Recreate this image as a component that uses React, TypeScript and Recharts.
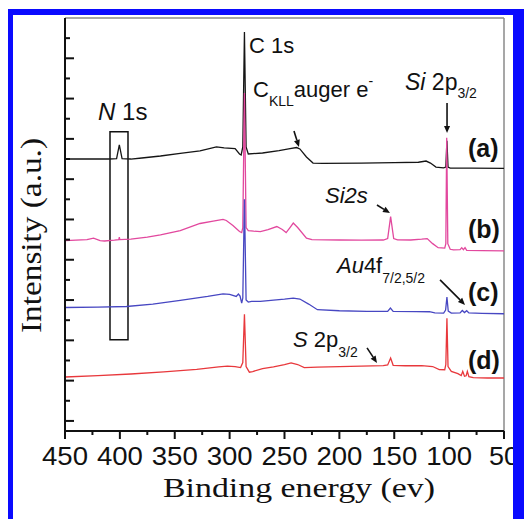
import React from 'react';
import { LineChart, Line, XAxis, YAxis, ReferenceLine, ReferenceDot, ReferenceArea } from 'recharts';

// ---- axis ticks ----
const xTicks = [450, 425, 400, 375, 350, 325, 300, 275, 250, 225, 200, 175, 150, 125, 100, 75, 50];
const xLabelTicks = [450, 400, 350, 300, 250, 200, 150, 100, 50];
const yTicks = [0, 1, 2, 3, 4, 5, 6, 7, 8, 9, 10, 11, 12, 13, 14, 15, 16, 17, 18, 19];

// ---- spectra: [binding energy (eV), offset intensity (a.u.)] ----
const spectrumA: [number, number][] = [
  [450, 13.0], [430, 13.0], [410, 13.0], [403, 13.02], [400.5, 13.7], [398, 13.02], [390, 13.0],
  [380, 13.05], [363, 13.15], [345, 13.28], [327, 13.4], [312, 13.6], [305, 13.55], [295, 13.52],
  [291, 13.25], [289.5, 13.2], [288, 13.6], [286.5, 19.3], [285, 13.6], [283, 13.25], [270, 13.3],
  [255, 13.42], [245, 13.52], [239, 13.57], [236, 13.5], [230, 13.1], [224, 12.8], [215, 12.78],
  [180, 12.8], [150, 12.82], [128, 12.84], [121, 12.9], [117, 12.8], [112, 12.6], [105, 12.56],
  [103, 12.6], [102, 13.9], [101, 12.6], [99, 12.55], [80, 12.55], [50, 12.54],
];
const spectrumB: [number, number][] = [
  [450, 8.95], [440, 8.97], [430, 9.0], [424, 9.07], [418, 8.95], [414, 8.93], [405, 8.97],
  [401, 9.0], [400.5, 9.12], [400, 9.0], [390, 9.02], [375, 9.12], [363, 9.24], [345, 9.45],
  [327, 9.8], [315, 9.92], [306, 10.0], [303, 9.95], [297, 9.7], [291, 9.4], [289, 9.35],
  [288, 9.6], [286.5, 16.28], [285, 9.6], [283, 9.45], [278, 9.42], [272, 9.4], [265, 9.5],
  [257, 9.65], [252, 9.5], [248.5, 9.35], [245, 9.6], [242, 9.82], [238, 9.6], [230, 9.07],
  [225, 9.0], [200, 8.98], [180, 8.97], [160, 8.98], [156, 9.05], [153.3, 10.14], [150.5, 9.05],
  [147, 8.99], [135, 8.98], [125, 9.02], [120, 9.05], [115, 8.8], [110, 8.6], [104, 8.58],
  [103, 8.8], [102.2, 14.05], [101.2, 8.8], [99, 8.52], [96, 8.49], [90, 8.5], [88.5, 8.6],
  [87, 8.5], [85.5, 8.6], [84, 8.47], [70, 8.45], [50, 8.44],
];
const spectrumC: [number, number][] = [
  [450, 5.63], [420, 5.65], [394, 5.68], [370, 5.8], [345, 5.98], [320, 6.18], [306, 6.31],
  [300, 6.28], [294, 6.18], [292, 6.3], [290.5, 6.2], [289, 5.85], [288, 6.1], [286.5, 11.0],
  [285, 6.0], [283, 5.9], [280, 5.93], [272, 5.93], [260, 6.0], [250, 6.05], [242, 6.1],
  [236, 6.05], [228, 5.8], [220, 5.52], [200, 5.47], [175, 5.44], [156, 5.44], [153.5, 5.6],
  [151, 5.44], [130, 5.43], [118, 5.42], [113, 5.36], [105, 5.35], [103.2, 5.5], [102, 6.15],
  [100.8, 5.45], [98, 5.35], [90, 5.36], [88, 5.48], [86, 5.38], [84, 5.47], [82, 5.36],
  [70, 5.34], [50, 5.32],
];
const spectrumD: [number, number][] = [
  [450, 2.18], [420, 2.25], [390, 2.33], [360, 2.43], [330, 2.56], [310, 2.68], [302, 2.72],
  [295, 2.7], [290, 2.65], [288, 2.9], [286.5, 5.3], [285, 2.7], [282, 2.42], [279, 2.45],
  [270, 2.6], [260, 2.68], [250, 2.8], [244, 2.88], [238, 2.8], [232, 2.65], [220, 2.67],
  [200, 2.7], [180, 2.72], [160, 2.74], [156, 2.78], [153.3, 3.12], [151, 2.76], [140, 2.74],
  [125, 2.74], [115, 2.7], [109, 2.55], [104, 2.54], [103, 2.8], [102, 5.1], [101, 2.7],
  [98, 2.46], [92, 2.35], [89, 2.25], [87.6, 2.46], [86, 2.22], [84.5, 2.24], [83.4, 2.46],
  [82, 2.2], [78, 2.15], [65, 2.13], [50, 2.13],
];

const seriesLabels = ['(a)', '(b)', '(c)', '(d)'];
const seriesLabelLevels = [13.1, 9.08, 5.96, 2.58];
const seriesColors = ['#151515', '#e2489e', '#4747c2', '#e8383c'];

const toRows = (s: [number, number][]) => s.map(([e, v]) => ({ e, v }));
const allSeries = [spectrumA, spectrumB, spectrumC, spectrumD].map(toRows);

const SANS = '"Liberation Sans", Arial, Helvetica, sans-serif';
const SERIF = '"Liberation Serif", "Times New Roman", Times, serif';
const INK = '#111';

const XTick = (props: any) => {
  const { x, y, payload } = props;
  const v = payload.value;
  const major = xLabelTicks.includes(v);
  const txt = String(v);
  return (
    <g>
      <line x1={x} y1={y} x2={x} y2={y + (major ? 8 : 4)} stroke={INK} strokeWidth={2} />
      {major && (
        <text
          x={x}
          y={y + 34}
          textAnchor="middle"
          fontFamily={SANS}
          fontSize={25}
          fill={INK}
          textLength={txt.length === 3 ? 46 : 30}
          lengthAdjust="spacingAndGlyphs"
        >
          {txt}
        </text>
      )}
    </g>
  );
};

const YTick = (props: any) => {
  const { x, y, payload } = props;
  const major = payload.value % 2 === 0;
  return <line x1={x} y1={y} x2={x + (major ? 9 : 5)} y2={y} stroke={INK} strokeWidth={2} />;
};

const XTitle = (props: any) => {
  const vb = props.viewBox || {};
  return (
    <text
      x={vb.x + 234}
      y={vb.y + 66}
      textAnchor="middle"
      fontFamily={SERIF}
      fontSize={28}
      fill={INK}
      textLength={272}
      lengthAdjust="spacingAndGlyphs"
    >
      Binding energy (ev)
    </text>
  );
};

const YTitle = (props: any) => {
  const vb = props.viewBox || {};
  const cx = vb.x + (vb.width || 0) - 24;
  const cy = vb.y + vb.height / 2 + 11;
  return (
    <text
      x={cx}
      y={cy}
      transform={`rotate(-90, ${cx}, ${cy})`}
      textAnchor="middle"
      fontFamily={SERIF}
      fontSize={29}
      fill={INK}
      textLength={195}
      lengthAdjust="spacingAndGlyphs"
    >
      Intensity (a.u.)
    </text>
  );
};

const textShape = (content: React.ReactNode, opts: any = {}) => (p: any) => (
  <text
    x={p.cx}
    y={p.cy}
    fontFamily={SANS}
    fontSize={opts.size || 22}
    fontWeight={opts.weight || 'normal'}
    fill={INK}
  >
    {content}
  </text>
);

const arrowShape = (dx: number, dy: number) => (p: any) => {
  const { cx, cy } = p;
  const len = Math.hypot(dx, dy);
  const ux = -dx / len;
  const uy = -dy / len;
  const hl = 7;
  const hw = 3;
  const bx = cx - ux * hl;
  const by = cy - uy * hl;
  const px = -uy;
  const py = ux;
  return (
    <g>
      <line x1={cx + dx} y1={cy + dy} x2={bx} y2={by} stroke={INK} strokeWidth={1.6} />
      <polygon
        points={`${cx},${cy} ${bx + px * hw},${by + py * hw} ${bx - px * hw},${by - py * hw}`}
        fill={INK}
      />
    </g>
  );
};

const SUB = 14;

export default function App() {
  return (
    <div style={{ position: 'absolute', left: 0, top: 0, width: 524, height: 519, background: '#fff', overflow: 'hidden' }}>
      <div style={{ position: 'absolute', left: 0, top: 0 }}>
        <LineChart width={524} height={519} margin={{ top: 18, right: 20, bottom: 0, left: 64 }}>
          <XAxis
            dataKey="e"
            type="number"
            domain={[50, 450]}
            reversed
            allowDataOverflow
            ticks={xTicks}
            interval={0}
            tick={<XTick />}
            tickLine={false}
            tickSize={0}
            tickMargin={0}
            height={88}
            axisLine={{ stroke: INK, strokeWidth: 2 }}
            label={<XTitle />}
          />
          <YAxis
            type="number"
            domain={[-0.5, 20]}
            allowDataOverflow
            ticks={yTicks}
            interval={0}
            tick={<YTick />}
            tickLine={false}
            tickSize={0}
            tickMargin={0}
            width={1}
            axisLine={{ stroke: INK, strokeWidth: 2 }}
            label={<YTitle />}
          />
          <ReferenceLine y={20} stroke="#8a8a8a" strokeWidth={1.5} />
          <ReferenceLine x={50} stroke="#8a8a8a" strokeWidth={1.5} />
          <ReferenceArea x1={409} x2={392.6} y1={4.03} y2={14.35} fill="none" fillOpacity={0} stroke={INK} strokeWidth={1.5} />
          {allSeries.map((rows, i) => (
            <Line
              key={i}
              data={rows}
              dataKey="v"
              type="linear"
              stroke={seriesColors[i]}
              strokeWidth={1.3}
              dot={false}
              isAnimationActive={false}
            />
          ))}
          {seriesLabels.map((lab, i) => (
            <ReferenceDot
              key={lab}
              x={82.8}
              y={seriesLabelLevels[i]}
              r={0}
              shape={textShape(lab, { size: 25, weight: 'bold' })}
            />
          ))}
          <ReferenceDot x={282.35} y={18.26} r={0} shape={textShape('C 1s', { size: 22 })} />
          <ReferenceDot
            x={419.9}
            y={14.94}
            r={0}
            shape={textShape(
              <>
                <tspan fontStyle="italic">N</tspan> 1s
              </>,
              { size: 24 },
            )}
          />
          <ReferenceDot
            x={278.7}
            y={16.08}
            r={0}
            shape={textShape(
              <>
                <tspan>C</tspan>
                <tspan fontSize={SUB} dy={9}>KLL</tspan>
                <tspan dy={-9}>auger e</tspan>
                <tspan fontSize={SUB} dy={-11}>-</tspan>
              </>,
              { size: 22 },
            )}
          />
          <ReferenceDot x={236.8} y={13.6} r={0} shape={arrowShape(-5, -16)} />
          <ReferenceDot
            x={140.2}
            y={16.43}
            r={0}
            shape={textShape(
              <>
                <tspan fontStyle="italic">Si</tspan> 2p
                <tspan fontSize={SUB} dy={8}>3/2</tspan>
              </>,
              { size: 23 },
            )}
          />
          <ReferenceDot x={101.9} y={14.29} r={0} shape={arrowShape(0, -30)} />
          <ReferenceDot
            x={213.1}
            y={10.82}
            r={0}
            shape={textShape(<tspan fontStyle="italic">Si2s</tspan>, { size: 22 })}
          />
          <ReferenceDot x={153.9} y={10.32} r={0} shape={arrowShape(-13, -8)} />
          <ReferenceDot
            x={202.2}
            y={7.34}
            r={0}
            shape={textShape(
              <>
                <tspan fontStyle="italic">Au</tspan>4f
                <tspan fontSize={SUB} dy={10}>7/2,5/2</tspan>
              </>,
              { size: 22 },
            )}
          />
          <ReferenceDot x={85.5} y={5.76} r={0} shape={arrowShape(-25, -25)} />
          <ReferenceDot
            x={242.3}
            y={3.67}
            r={0}
            shape={textShape(
              <>
                <tspan fontStyle="italic">S</tspan> 2p
                <tspan fontSize={SUB} dy={10}>3/2</tspan>
              </>,
              { size: 22 },
            )}
          />
          <ReferenceDot x={165.7} y={2.88} r={0} shape={arrowShape(-10, -15)} />
        </LineChart>
      </div>
      <div
        style={{
          position: 'absolute',
          left: 8,
          top: 9,
          width: 516,
          height: 510,
          boxSizing: 'border-box',
          borderTop: '6px solid #0a0aff',
          borderLeft: '5px solid #0a0aff',
          borderRight: '11px solid #0a0aff',
          pointerEvents: 'none',
        }}
      />
    </div>
  );
}
